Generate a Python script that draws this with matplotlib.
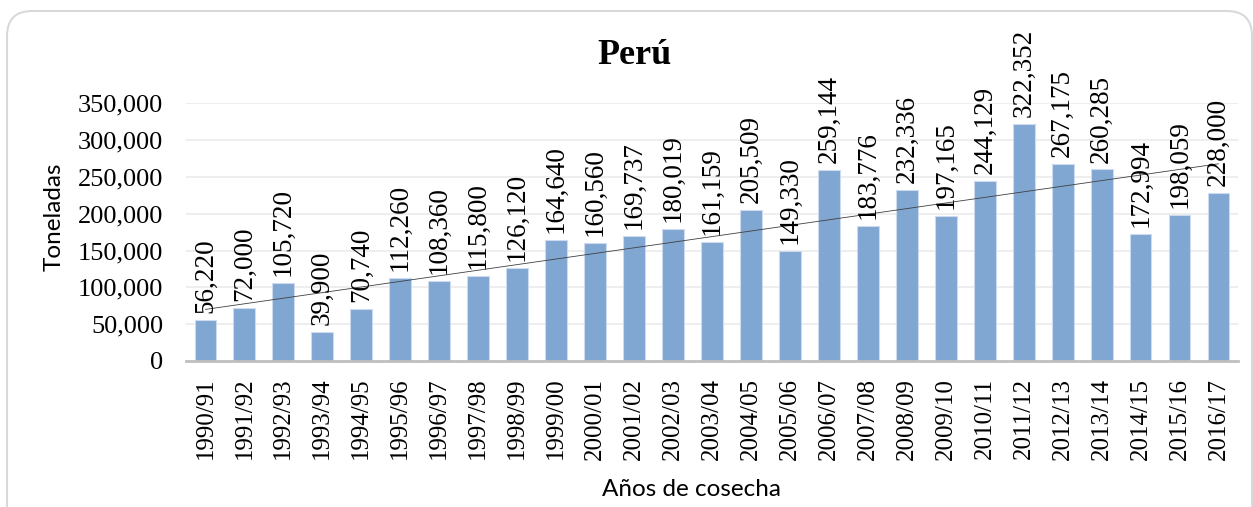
import matplotlib

matplotlib.use("Agg")
import matplotlib.pyplot as plt
import numpy as np
from matplotlib.patches import FancyBboxPatch
from matplotlib.ticker import FuncFormatter

# cosechas y producción (toneladas)
seasons = [
    "1990/91", "1991/92", "1992/93", "1993/94", "1994/95", "1995/96", "1996/97",
    "1997/98", "1998/99", "1999/00", "2000/01", "2001/02", "2002/03", "2003/04",
    "2004/05", "2005/06", "2006/07", "2007/08", "2008/09", "2009/10", "2010/11",
    "2011/12", "2012/13", "2013/14", "2014/15", "2015/16", "2016/17",
]
tonnes = [
    56220, 72000, 105720, 39900, 70740, 112260, 108360, 115800, 126120, 164640,
    160560, 169737, 180019, 161159, 205509, 149330, 259144, 183776, 232336,
    197165, 244129, 322352, 267175, 260285, 172994, 198059, 228000,
]
y_ticks = [0, 50000, 100000, 150000, 200000, 250000, 300000, 350000]

SERIF = "Liberation Serif"
SANS = "Lato"
BAR = "#80a6d2"

fig = plt.figure(figsize=(12.53, 5.07), dpi=100)
ax = fig.add_axes([0.1484, 0.288, 0.8396, 0.508])

# marco redondeado del gráfico (se corta por abajo)
frame = FancyBboxPatch(
    (7 / 1253, -0.05), (1252 - 7) / 1253, 496 / 507 + 0.05,
    boxstyle="round,pad=0,rounding_size=0.02",
    transform=fig.transFigure, facecolor="none", edgecolor="#d9d9d9", lw=1.5,
    mutation_aspect=1253 / 507,
)
fig.patches.append(frame)

x = np.arange(len(seasons))
ax.bar(x, tonnes, width=0.56, color=BAR, edgecolor="#cddbee", linewidth=0.8, zorder=2)

# línea de tendencia lineal
slope, intercept = np.polyfit(x, tonnes, 1)
ax.plot(x, slope * x + intercept, color="#404040", lw=0.6, zorder=3)

for xi, v in zip(x, tonnes):
    ax.annotate(f"{v:,}", (xi, v), xytext=(0, 5), textcoords="offset points",
                rotation=90, ha="center", va="bottom", fontsize=19.5,
                family=SERIF, annotation_clip=False, zorder=4)

ax.set_xlim(-0.5, len(seasons) - 0.5)
ax.set_ylim(0, 350000)
ax.set_yticks(y_ticks)
ax.yaxis.set_major_formatter(FuncFormatter(lambda v, _: f"{int(v):,}"))
ax.set_xticks(x)
ax.set_xticklabels(seasons, rotation=90, family=SERIF, fontsize=18)
for lbl in ax.get_yticklabels():
    lbl.set_family(SERIF)
    lbl.set_fontsize(19)

ax.tick_params(axis="both", length=0)
ax.tick_params(axis="x", pad=12)
ax.tick_params(axis="y", pad=16.5)
ax.grid(axis="y", color="#ebebeb", lw=1.2, zorder=0)
ax.set_axisbelow(True)
for side in ("top", "right", "left"):
    ax.spines[side].set_visible(False)
ax.spines["bottom"].set_color("#bfbfbf")
ax.spines["bottom"].set_linewidth(2)
ax.spines["bottom"].set_zorder(3)

fig.text(635 / 1253, 1 - 55 / 507, "Perú", ha="center", va="center",
         family=SERIF, fontweight="bold", fontsize=26)
fig.text(54 / 1253, 1 - 217 / 507, "Toneladas", rotation=90, ha="center",
         va="center", family=SANS, fontsize=17.5)
fig.text(691 / 1253, 1 - 490 / 507, "Años de cosecha", ha="center", va="center",
         family=SANS, fontsize=17.5)

fig.savefig("out.png", dpi=100)
